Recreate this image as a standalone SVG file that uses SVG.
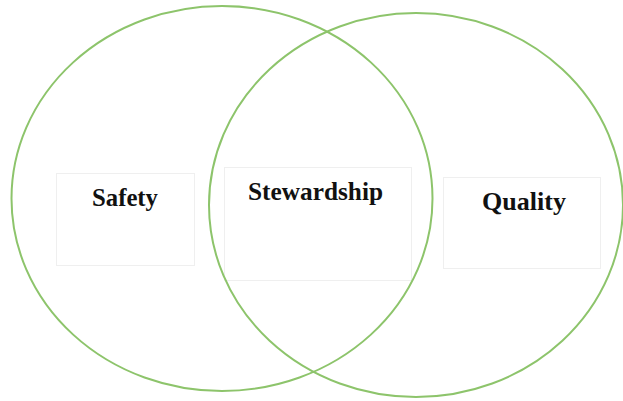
<svg xmlns="http://www.w3.org/2000/svg" width="623" height="401" viewBox="0 0 623 401">
<style>
.ring{fill:none;stroke:#8dc46b;stroke-width:2}
.box{fill:#ffffff;stroke:#efefef;stroke-width:1}
.lbl{font-family:"Liberation Serif","Times New Roman",serif;font-weight:bold;font-size:25px;fill:#111111;text-anchor:middle}
</style>
<rect width="623" height="401" fill="#ffffff"/>
<g id="boxes">
<g id="safety"><rect class="box" x="56.5" y="173.5" width="138" height="92"/><text class="lbl" x="125" y="206" textLength="66" lengthAdjust="spacingAndGlyphs">Safety</text></g>
<g id="stewardship"><rect class="box" x="224.5" y="167.5" width="187" height="113"/><text class="lbl" x="315.5" y="200" textLength="135" lengthAdjust="spacingAndGlyphs">Stewardship</text></g>
<g id="quality"><rect class="box" x="443.5" y="177.5" width="157" height="91"/><text class="lbl" x="524" y="210" textLength="84" lengthAdjust="spacingAndGlyphs">Quality</text></g>
</g>
<g id="circles">
<ellipse id="left-circle" class="ring" cx="222" cy="198.5" rx="210.5" ry="192.5"/>
<ellipse id="right-circle" class="ring" cx="416" cy="205" rx="207" ry="192"/>
</g>
</svg>
